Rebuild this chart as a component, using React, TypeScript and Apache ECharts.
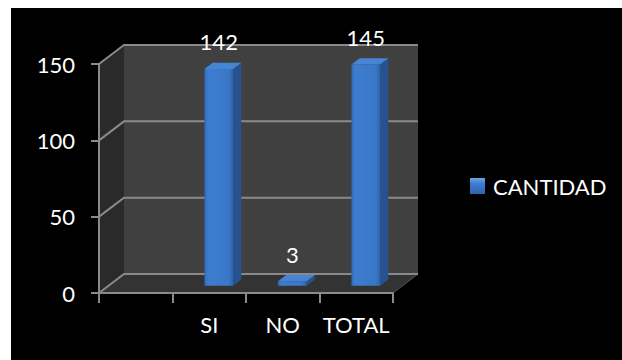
import React, { useEffect, useRef } from "react";
import * as echarts from "echarts";

const categories: string[] = ["", "SI", "NO", "TOTAL"];
const cantidad: (number | null)[] = [null, 142, 3, 145];
const yTicks: number[] = [0, 50, 100, 150];
const seriesName = "CANTIDAD";

const DX = 25;
const DY = -19;
const T0 = 0.38;
const DEPTH = 0.33;
const FONT = "Lato";
const FS = 22;

export default function App() {
  const ref = useRef<HTMLDivElement>(null);
  useEffect(() => {
    if (!ref.current) return;
    const chart = echarts.init(ref.current, undefined, { renderer: "svg" });
    const barData = cantidad
      .map((v, i) => (v === null ? null : [i, v]))
      .filter((d) => d !== null);

    const option: any = {
      animation: false,
      backgroundColor: "#000000",
      grid: { left: 88, top: 56, width: 294, height: 229, containLabel: false },
      legend: {
        data: [seriesName],
        left: 454,
        top: 162,
        itemWidth: 15,
        itemHeight: 16,
        icon: "rect",
        itemGap: 10,
        itemStyle: {
          color: new echarts.graphic.LinearGradient(0, 0, 0, 1, [
            { offset: 0, color: "#6fa3e6" },
            { offset: 0.35, color: "#3d7dd0" },
            { offset: 1, color: "#2f63ad" },
          ]),
        },
        textStyle: { color: "#ffffff", fontSize: FS, fontFamily: FONT, padding: [0, 0, 0, 3] },
      },
      xAxis: {
        type: "category",
        data: categories,
        boundaryGap: true,
        axisLine: { show: true, lineStyle: { color: "#8a8a8a", width: 2 } },
        axisTick: { show: true, length: 10, lineStyle: { color: "#8a8a8a", width: 2 } },
        axisLabel: { color: "#ffffff", fontSize: FS, fontFamily: FONT, margin: 20, interval: 0 },
        splitLine: { show: false },
        z: 5,
      },
      yAxis: {
        type: "value",
        min: 0,
        max: 150,
        interval: 50,
        axisLine: { show: true, lineStyle: { color: "#8a8a8a", width: 2 } },
        axisTick: { show: true, length: 8, lineStyle: { color: "#8a8a8a", width: 2 } },
        axisLabel: { color: "#ffffff", fontSize: FS, fontFamily: FONT, margin: 24 },
        splitLine: { show: false },
        z: 5,
      },
      series: [
        {
          name: "walls",
          type: "custom",
          silent: true,
          z: 1,
          data: [[0, 0]],
          renderItem: (params: any, api: any) => {
            const cs = params.coordSys;
            const x0 = cs.x, y0 = cs.y, w = cs.width, h = cs.height;
            const children: any[] = [];
            children.push({
              type: "rect",
              shape: { x: x0 + DX, y: y0 + DY, width: w, height: h },
              style: { fill: "#404040" },
            });
            children.push({
              type: "polygon",
              shape: { points: [[x0, y0 + h], [x0, y0], [x0 + DX, y0 + DY], [x0 + DX, y0 + h + DY]] },
              style: { fill: "#2a2a2a" },
            });
            children.push({
              type: "polygon",
              shape: { points: [[x0, y0 + h], [x0 + w, y0 + h], [x0 + w + DX, y0 + h + DY], [x0 + DX, y0 + h + DY]] },
              style: { fill: "#333333" },
            });
            children.push({
              type: "line",
              shape: { x1: x0 + w, y1: y0 + h, x2: x0 + w + DX, y2: y0 + h + DY },
              style: { stroke: "#555555", lineWidth: 1 },
            });
            yTicks.forEach((t) => {
              const y = api.coord([0, t])[1];
              children.push({
                type: "polyline",
                shape: { points: [[x0, y], [x0 + DX, y + DY], [x0 + DX + w, y + DY]] },
                style: { stroke: "#8a8a8a", lineWidth: 2, fill: null },
              });
            });
            return { type: "group", children };
          },
        },
        {
          name: seriesName,
          type: "custom",
          z: 3,
          itemStyle: { color: "#3a78c8" },
          data: barData,
          renderItem: (params: any, api: any) => {
            const idx = api.value(0);
            const v = api.value(1);
            const top = api.coord([idx, v]);
            const base = api.coord([idx, 0]);
            const cw = api.size([1, 0])[0];
            const bw = cw * 0.39;
            const fl = top[0] - bw / 2 + T0 * DX;
            const fr = fl + bw;
            const yt = top[1] + T0 * DY;
            const yb = base[1] + T0 * DY;
            const ddx = DEPTH * DX;
            const ddy = DEPTH * DY;
            return {
              type: "group",
              children: [
                {
                  type: "polygon",
                  shape: { points: [[fr, yt], [fr + ddx, yt + ddy], [fr + ddx, yb + ddy], [fr, yb]] },
                  style: { fill: "#27528e" },
                },
                {
                  type: "polygon",
                  shape: { points: [[fl, yt], [fr, yt], [fr + ddx, yt + ddy], [fl + ddx, yt + ddy]] },
                  style: { fill: "#4684d4" },
                },
                {
                  type: "rect",
                  shape: { x: fl, y: yt, width: bw, height: Math.max(yb - yt, 1) },
                  style: {
                    fill: new echarts.graphic.LinearGradient(0, 0, 1, 0, [
                      { offset: 0, color: "#3167b3" },
                      { offset: 0.12, color: "#3d7dd0" },
                      { offset: 0.85, color: "#3a77c7" },
                      { offset: 1, color: "#2f63ad" },
                    ]),
                  },
                },
                {
                  type: "text",
                  x: (fl + fr) / 2,
                  y: yt - 27,
                  style: {
                    text: String(v),
                    fill: "#ffffff",
                    fontSize: FS,
                    fontFamily: FONT,
                    align: "center",
                    verticalAlign: "middle",
                  },
                },
              ],
            };
          },
        },
      ],
    };
    chart.setOption(option);
    return () => chart.dispose();
  }, []);
  return (
    <div
      ref={ref}
      style={{ position: "fixed", left: 11, top: 8, width: 611, height: 352, background: "#000" }}
    />
  );
}
